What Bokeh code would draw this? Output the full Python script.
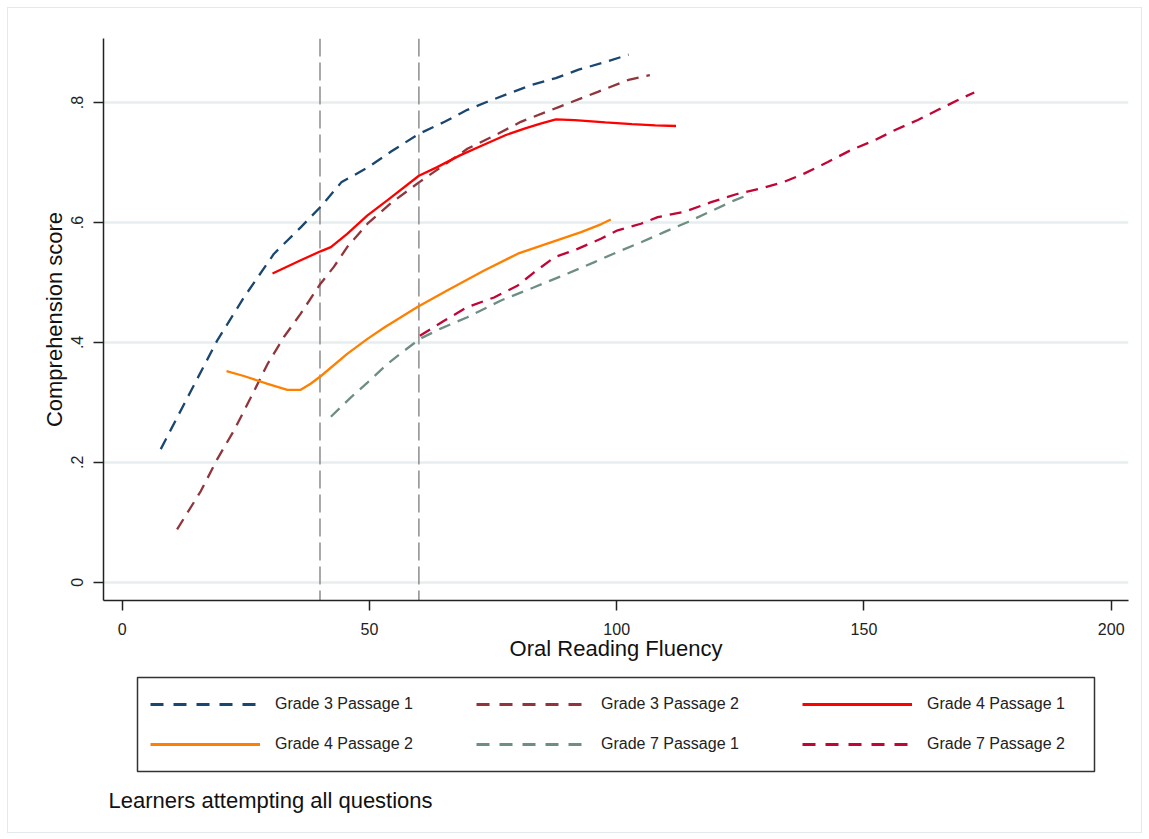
import numpy as np
from bokeh.plotting import figure
from bokeh.layouts import column
from bokeh.models import Range1d, FixedTicker, Span, Legend, LegendItem, Label, BoxAnnotation
from bokeh.embed import file_html
from bokeh.resources import INLINE

FONT = "Liberation Sans"

# ---------------- data ----------------
series_names = ["Grade 3 Passage 1", "Grade 3 Passage 2", "Grade 4 Passage 1",
                "Grade 4 Passage 2", "Grade 7 Passage 1", "Grade 7 Passage 2"]

g3p1_x = [7.8, 13.2, 19.2, 24.6, 30.7, 36.1, 40.1, 44.3, 49.7, 54.3, 60.0, 65.2, 69.8,
          73.7, 78.4, 83.0, 87.7, 92.3, 97.0, 102.4]
g3p1_y = [0.222, 0.308, 0.403, 0.475, 0.548, 0.592, 0.626, 0.667, 0.692, 0.718, 0.748,
          0.768, 0.788, 0.801, 0.816, 0.830, 0.841, 0.855, 0.866, 0.880]

g3p2_x = [11.1, 15.9, 19.2, 22.6, 26.0, 29.4, 32.7, 36.1, 40.1, 42.8, 45.5, 49.6, 54.3,
          60.0, 64.4, 69.8, 76.0, 80.6, 88.4, 96.2, 102.4, 106.7]
g3p2_y = [0.088, 0.152, 0.205, 0.253, 0.308, 0.364, 0.409, 0.448, 0.498, 0.526, 0.559,
          0.598, 0.632, 0.667, 0.692, 0.723, 0.748, 0.768, 0.793, 0.818, 0.838, 0.846]

g4p1_x = [30.4, 36.1, 40.1, 42.2, 45.5, 49.6, 53.6, 60.0, 63.6, 68.3, 72.9, 77.6, 81.5,
          84.6, 87.7, 91.5, 97.7, 103.1, 107.8, 112.0]
g4p1_y = [0.515, 0.537, 0.552, 0.559, 0.581, 0.612, 0.637, 0.678, 0.692, 0.712, 0.729,
          0.746, 0.757, 0.765, 0.772, 0.771, 0.767, 0.764, 0.762, 0.761]

g4p2_x = [21.1, 24.6, 29.4, 33.4, 36.1, 38.1, 40.2, 45.5, 49.6, 53.0, 59.7, 65.8, 73.2,
          80.0, 86.7, 92.8, 96.8, 98.8]
g4p2_y = [0.352, 0.344, 0.331, 0.321, 0.321, 0.331, 0.344, 0.381, 0.406, 0.425, 0.459,
          0.487, 0.520, 0.548, 0.567, 0.584, 0.597, 0.605]

g7p1_x = [42.2, 46.2, 49.6, 53.6, 57.0, 60.2, 64.4, 69.8, 76.6, 83.3, 90.1, 95.5, 100.2,
          104.9, 109.6, 114.4, 119.1, 123.8, 127.2]
g7p1_y = [0.276, 0.308, 0.333, 0.364, 0.386, 0.406, 0.423, 0.442, 0.470, 0.492, 0.515,
          0.534, 0.551, 0.567, 0.584, 0.601, 0.619, 0.637, 0.648]

g7p2_x = [60.2, 65.1, 69.8, 75.2, 80.0, 83.3, 87.4, 92.1, 96.8, 100.2, 104.9, 108.3, 113.7,
          119.1, 124.5, 129.2, 133.9, 138.0, 142.7, 147.4, 152.1, 156.2, 160.9, 165.0,
          169.7, 172.3]
g7p2_y = [0.411, 0.436, 0.459, 0.475, 0.495, 0.517, 0.542, 0.556, 0.573, 0.587, 0.598,
          0.609, 0.618, 0.634, 0.648, 0.657, 0.668, 0.682, 0.701, 0.721, 0.737, 0.754,
          0.771, 0.788, 0.807, 0.817]

reference_lines = [40, 60]
x_ticks = [0, 50, 100, 150, 200]
y_ticks = [0, 0.2, 0.4, 0.6, 0.8]
y_tick_labels = ["0", ".2", ".4", ".6", ".8"]
note_text = "Learners attempting all questions"

colors = ["#1a476f", "#90353b", "#ff0000", "#ff8000", "#6e8e84", "#c10534"]
dashes = ["12 8", "12 8", "solid", "solid", "12 8", "12 8"]
LW = 2.3

# ---------------- main chart ----------------
W = 1133
BL, BR = 95, 13
p = figure(width=W, height=662,
           x_range=Range1d(-3.78, 203.5), y_range=Range1d(-0.0305, 0.907),
           output_backend="svg", toolbar_location=None,
           min_border_left=BL, min_border_right=BR, min_border_top=30, min_border_bottom=70)
p.outline_line_color = None
p.background_fill_color = "white"
p.border_fill_color = "white"

p.xgrid.visible = False
p.ygrid.ticker = FixedTicker(ticks=y_ticks)
p.ygrid.grid_line_color = "#e6eef0"
p.ygrid.grid_line_width = 2.5

p.xaxis.ticker = FixedTicker(ticks=x_ticks)
p.yaxis.ticker = FixedTicker(ticks=y_ticks)
p.yaxis.major_label_overrides = {t: l for t, l in zip(y_ticks, y_tick_labels)}
p.yaxis.major_label_orientation = "vertical"
for ax in (p.xaxis, p.yaxis):
    ax.axis_line_color = "#222222"
    ax.axis_line_width = 1.5
    ax.major_tick_line_color = "#222222"
    ax.major_tick_line_width = 1.5
    ax.major_tick_out = 10
    ax.major_tick_in = 0
    ax.minor_tick_line_color = None
    ax.major_label_text_font = FONT
    ax.major_label_text_font_size = "16px"
    ax.major_label_text_color = "#222222"
    ax.axis_label_text_font = FONT
    ax.axis_label_text_font_size = "22px"
    ax.axis_label_text_font_style = "normal"
    ax.axis_label_text_color = "#111111"
p.xaxis.axis_label = "Oral Reading Fluency"
p.yaxis.axis_label = "Comprehension score"
p.xaxis.major_label_standoff = 12
p.yaxis.major_label_standoff = 10
p.xaxis.axis_label_standoff = -2
p.yaxis.axis_label_standoff = 2

for loc in reference_lines:
    p.add_layout(Span(location=loc, dimension="height", line_color="#8c8c8c",
                      line_width=1.5, line_dash="18 6", level="underlay"))

xs = [g3p1_x, g3p2_x, g4p1_x, g4p2_x, g7p1_x, g7p2_x]
ys = [g3p1_y, g3p2_y, g4p1_y, g4p2_y, g7p1_y, g7p2_y]
for x, y, c, d in zip(xs, ys, colors, dashes):
    p.line(x, y, line_color=c, line_width=LW, line_dash=d)

# ---------------- legend + note panel (pixel-unit figure, frame aligned with chart) ----------------
H2 = 162
q = figure(width=W, height=H2, x_range=Range1d(BL, W - BR), y_range=Range1d(0, H2),
           output_backend="svg", toolbar_location=None,
           x_axis_type=None, y_axis_type=None,
           min_border_left=BL, min_border_right=BR, min_border_top=0, min_border_bottom=0)
q.outline_line_color = None
q.grid.visible = False
q.background_fill_color = "white"
q.border_fill_color = "white"

# legend proxies (NaN data, draw nothing): same styles as the chart lines
nan2 = np.array([np.nan, np.nan])
proxies = [q.line(nan2, nan2, line_color=c, line_width=2.8, line_dash=("13 10" if d != "solid" else d))
           for c, d in zip(colors, dashes)]

def make_row(idx, vy):
    items = [LegendItem(label=series_names[i], renderers=[proxies[i]]) for i in idx]
    leg = Legend(items=items, orientation="horizontal", location=(142 - BL, vy),
                 border_line_alpha=0, background_fill_alpha=0, padding=0, margin=0,
                 spacing=41, glyph_width=110, glyph_height=20, label_height=20,
                 label_width=160, label_standoff=15,
                 label_text_font=FONT, label_text_font_size="16px",
                 label_text_color="#222222")
    q.add_layout(leg)

make_row([0, 1, 2], 118)
make_row([3, 4, 5], 78)

q.add_layout(BoxAnnotation(left=129, right=1086, top=155, bottom=61,
                           fill_alpha=0, line_color="#333333", line_alpha=1.0,
                           line_width=1.5))

q.add_layout(Label(x=100, y=32, text=note_text, text_font=FONT,
                   text_font_size="22px", text_baseline="middle", text_color="#111111"))

layout = column(p, q, spacing=0, margin=(8, 0, 0, 8),
                styles={"outline": "1px solid #e3eaed"})

open("out.html", "w").write(file_html(layout, INLINE))
